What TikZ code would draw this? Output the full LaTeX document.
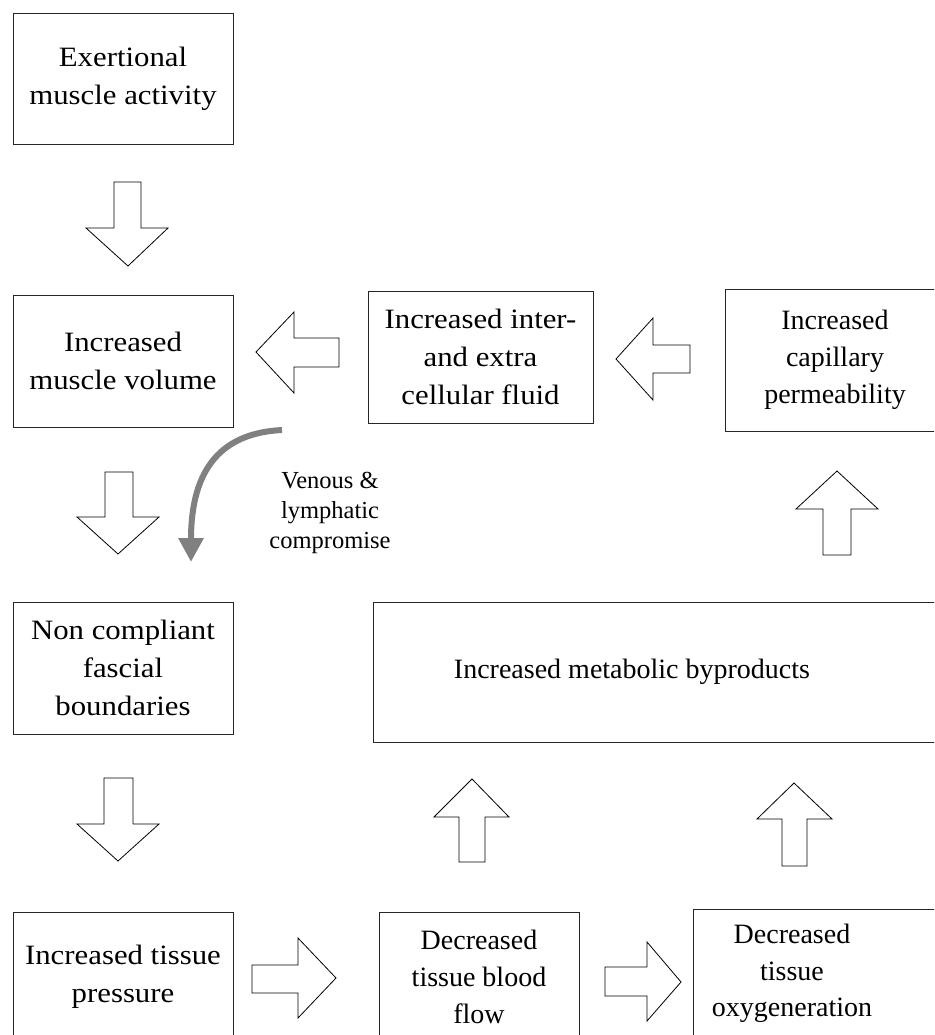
\documentclass[tikz,border=0pt]{standalone}
\usepackage{fontspec}
\setmainfont{Liberation Serif}
\newfontfamily\widefont{Liberation Serif}[FakeStretch=1.1]
\usetikzlibrary{arrows.meta}
\begin{document}
\begin{tikzpicture}[x=1pt,y=-1pt,
  boxst/.style={draw=black!85, line width=0.9pt, rectangle, inner sep=0pt, align=center,
    font=\fontsize{28}{37}\selectfont},
  widebox/.style={boxst, font=\widefont\fontsize{28}{38}\selectfont},
  txt/.style={inner sep=0pt, align=center, font=\fontsize{28}{36.5}\selectfont},
  smalltxt/.style={inner sep=0pt, align=center, font=\fontsize{24.5}{30}\selectfont},
  blockarrow/.style={draw=black, line width=0.8pt, fill=white, line join=miter},
  grayarrow/.style={draw=black!50, line width=6pt, -{Triangle[length=24pt,width=24pt]}}]
\useasboundingbox (0,0) rectangle (934,1035);
\clip (0,0) rectangle (934,1035);
\fill[white] (0,0) rectangle (934,1035);

% boxes
\node (exert) [widebox, minimum width=220, minimum height=131] at (123,79) {Exertional\\muscle activity};
\node (vol) [widebox, minimum width=220, minimum height=132] at (123,361) {Increased\\muscle volume};
\node (fluid) [widebox, minimum width=225, minimum height=132] at (480.5,357) {Increased inter-\\and extra\\cellular fluid};
\node (cap) [boxst, minimum width=220, minimum height=142] at (835,360) {Increased\\capillary\\permeability};
\node (fasc) [widebox, minimum width=220, minimum height=132] at (123,668) {Non compliant\\fascial\\boundaries};
\node (metabox) [boxst, minimum width=590, minimum height=140, anchor=north west] at (373,602) {};
\node (meta) [txt] at (632,672) {Increased metabolic byproducts};
\node (press) [widebox, minimum width=220, minimum height=130] at (123,977) {Increased tissue\\pressure};
\node (flow) [boxst, minimum width=200, minimum height=130] at (479,977) {Decreased\\tissue blood\\flow};
\node (oxybox) [boxst, minimum width=270, minimum height=150, anchor=north west] at (693,909) {};
\node (oxy) [txt] at (792,973.5) {Decreased\\tissue\\oxygeneration};

% venous label
\node (ven) [smalltxt] at (330,513) {Venous \&\\lymphatic\\compromise};

% block arrows
\draw[blockarrow] (114,182) -- (141,182) -- (141,228) -- (168,228) -- (128,266) -- (86,228) -- (114,228) -- cycle;
\draw[blockarrow] (105,472) -- (133,472) -- (133,517) -- (159,517) -- (118,554) -- (77,517) -- (105,517) -- cycle;
\draw[blockarrow] (104,778) -- (133,778) -- (133,824) -- (159,824) -- (118,861) -- (77,824) -- (104,824) -- cycle;
\draw[blockarrow] (339,338) -- (339,367) -- (294,367) -- (294,393) -- (256,352) -- (294,312) -- (294,338) -- cycle;
\draw[blockarrow] (690,345) -- (690,373) -- (653,373) -- (653,400) -- (616,359) -- (653,318) -- (653,345) -- cycle;
\draw[blockarrow] (823,555) -- (851,555) -- (851,509) -- (878,509) -- (837,471) -- (796,509) -- (823,509) -- cycle;
\draw[blockarrow] (459,862) -- (485,862) -- (485,817) -- (509,817) -- (472,779) -- (434,817) -- (459,817) -- cycle;
\draw[blockarrow] (782,866) -- (807,866) -- (807,819) -- (832,819) -- (794,783) -- (757,819) -- (782,819) -- cycle;
\draw[blockarrow] (252,965) -- (298,965) -- (298,938) -- (336,978) -- (298,1018) -- (298,993) -- (252,993) -- cycle;
\draw[blockarrow] (605,967) -- (647,967) -- (647,942) -- (681,982) -- (647,1021) -- (647,996) -- (605,996) -- cycle;

% curved gray arrow
\coordinate (cstart) at (282,430);
\coordinate (cend) at (191,562);
\draw[grayarrow] (cstart) .. controls (222,433) and (191,468) .. (cend);
\end{tikzpicture}
\end{document}
